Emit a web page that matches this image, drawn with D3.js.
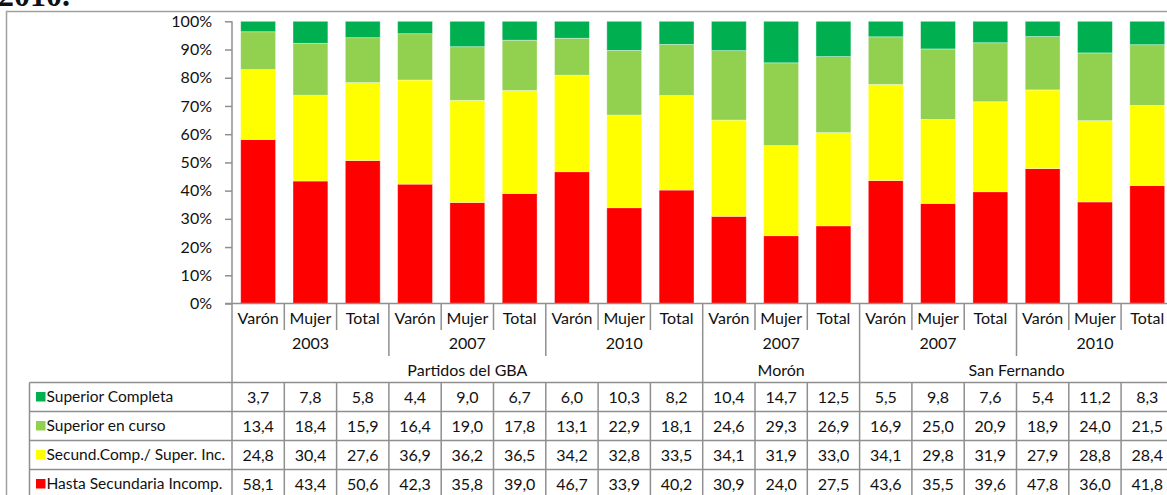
<!DOCTYPE html>
<html>
<head>
<meta charset="utf-8">
<script src="https://cdn.jsdelivr.net/npm/d3@7"></script>
<style>
  body { margin: 0; background: #fff; }
  svg text { font-family: Lato, "Open Sans", sans-serif; fill: #111; }
</style>
</head>
<body>
<div id="chart"></div>
<script>
const width = 1167;
const height = 495;

// categories
const sexLabels = ["Varón", "Mujer", "Total"];
const yearLabels = ["2003", "2007", "2010", "2007", "2007", "2010"];
const yearRegion = [0, 0, 0, 1, 2, 2];
const regionLabels = ["Partidos del GBA", "Morón", "San Fernando"];

// series (bottom to top of the stack)
const seriesNames = ["Hasta Secundaria Incomp.", "Secund.Comp./ Super. Inc.", "Superior en curso", "Superior Completa"];
const seriesColors = ["#ff0000", "#ffff00", "#92d050", "#00b050"];
const hastaSecundaria = [58.1, 43.4, 50.6, 42.3, 35.8, 39.0, 46.7, 33.9, 40.2, 30.9, 24.0, 27.5, 43.6, 35.5, 39.6, 47.8, 36.0, 41.8];
const secundComp = [24.8, 30.4, 27.6, 36.9, 36.2, 36.5, 34.2, 32.8, 33.5, 34.1, 31.9, 33.0, 34.1, 29.8, 31.9, 27.9, 28.8, 28.4];
const superiorEnCurso = [13.4, 18.4, 15.9, 16.4, 19.0, 17.8, 13.1, 22.9, 18.1, 24.6, 29.3, 26.9, 16.9, 25.0, 20.9, 18.9, 24.0, 21.5];
const superiorCompleta = [3.7, 7.8, 5.8, 4.4, 9.0, 6.7, 6.0, 10.3, 8.2, 10.4, 14.7, 12.5, 5.5, 9.8, 7.6, 5.4, 11.2, 8.3];

const yTicks = [0, 0.1, 0.2, 0.3, 0.4, 0.5, 0.6, 0.7, 0.8, 0.9, 1];

const seriesValues = [hastaSecundaria, secundComp, superiorEnCurso, superiorCompleta];

// one row per bar
const rows = hastaSecundaria.map((d, i) => {
  const row = { idx: i };
  seriesNames.forEach((name, s) => { row[name] = seriesValues[s][i]; });
  return row;
});

const colW = 52.3;
const plotLeft = 232;
const plotTop = 21.3;
const plotBottom = 303.5;
const fontSize = "16px";

const x = d3.scaleBand()
  .domain(rows.map(d => d.idx))
  .range([plotLeft, plotLeft + colW * rows.length])
  .paddingInner(1 / 3)
  .paddingOuter(1 / 6);

const y = d3.scaleLinear().domain([0, 1]).range([plotBottom, plotTop]);

const stack = d3.stack().keys(seriesNames).offset(d3.stackOffsetExpand);
const stacked = stack(rows);

const comma = d3.formatLocale({ decimal: ",", thousands: ".", grouping: [3], currency: ["$", ""] }).format(".1f");

const svg = d3.select("#chart").append("svg")
  .attr("width", width)
  .attr("height", height);

const gridColor = "#8f8f8f";

// cut-off title above the chart
svg.append("text")
  .attr("x", -2)
  .attr("y", 6)
  .style("font-family", "'Liberation Serif', serif")
  .style("font-weight", "bold")
  .style("font-size", "32px")
  .text("2010.");

// chart border
svg.append("rect")
  .attr("x", 6.5)
  .attr("y", 11.5)
  .attr("width", 1300)
  .attr("height", 700)
  .attr("fill", "#fff")
  .attr("stroke", "#a0a0a0")
  .attr("stroke-width", 1.5);

// bars
svg.append("g")
  .selectAll("g")
  .data(stacked)
  .join("g")
  .attr("fill", (d, i) => seriesColors[i])
  .selectAll("rect")
  .data(d => d)
  .join("rect")
  .attr("x", d => x(d.data.idx))
  .attr("y", d => y(d[1]))
  .attr("width", x.bandwidth())
  .attr("height", d => y(d[0]) - y(d[1]))
  .attr("stroke", "rgba(255,255,255,0.45)")
  .attr("stroke-width", 0.8);

// y axis
const yAxis = d3.axisLeft(y)
  .tickValues(yTicks)
  .tickFormat(d3.format(".0%"))
  .tickSize(7)
  .tickPadding(13);

const yG = svg.append("g")
  .attr("transform", `translate(${plotLeft},0)`)
  .call(yAxis);
yG.select(".domain").remove();
yG.selectAll(".tick line").attr("stroke", gridColor).attr("stroke-width", 1.5);
yG.selectAll(".tick text")
  .style("font-size", fontSize)
  .style("font-family", "Lato, sans-serif")
  .attr("fill", "#111");

// axis lines
svg.append("line")
  .attr("x1", plotLeft).attr("x2", plotLeft)
  .attr("y1", plotTop).attr("y2", height)
  .attr("stroke", gridColor).attr("stroke-width", 1.5);
svg.append("line")
  .attr("x1", plotLeft - 7).attr("x2", width)
  .attr("y1", plotBottom).attr("y2", plotBottom)
  .attr("stroke", gridColor).attr("stroke-width", 1.5);

// category rows under the axis
const colLeft = i => plotLeft + i * colW;
const rowSex = 318, rowYear = 343, rowRegion = 370;
const tableTop = 382.5, rowH = 29;

const sepG = svg.append("g").attr("stroke", gridColor).attr("stroke-width", 1.5);
for (let i = 1; i < rows.length; i++) {
  let bottom = 330;
  if (i % 3 === 0) bottom = 356;
  if (i % 3 === 0 && yearRegion[i / 3] !== yearRegion[i / 3 - 1]) bottom = tableTop;
  sepG.append("line")
    .attr("x1", colLeft(i)).attr("x2", colLeft(i))
    .attr("y1", plotBottom).attr("y2", bottom);
}

const labelG = svg.append("g").attr("text-anchor", "middle").style("font-size", fontSize);
rows.forEach((r, i) => {
  labelG.append("text")
    .attr("x", x(r.idx) + x.bandwidth() / 2)
    .attr("y", rowSex)
    .attr("dy", "0.35em")
    .text(sexLabels[i % 3]);
});
yearLabels.forEach((yl, g) => {
  labelG.append("text")
    .attr("x", colLeft(g * 3) + colW * 1.5)
    .attr("y", rowYear)
    .attr("dy", "0.35em")
    .text(yl);
});
regionLabels.forEach((rl, r) => {
  const cols = yearRegion.map((v, g) => v === r ? g : -1).filter(g => g >= 0);
  const start = colLeft(cols[0] * 3);
  const end = colLeft((cols[cols.length - 1] + 1) * 3);
  labelG.append("text")
    .attr("x", (start + end) / 2)
    .attr("y", rowRegion)
    .attr("dy", "0.35em")
    .text(rl);
});

// data table (top row = top of stack)
const tableOrder = [3, 2, 1, 0];
const legendLeft = 29.5;
const tableG = svg.append("g");

for (let k = 0; k <= tableOrder.length; k++) {
  tableG.append("line")
    .attr("x1", legendLeft).attr("x2", width)
    .attr("y1", tableTop + k * rowH).attr("y2", tableTop + k * rowH)
    .attr("stroke", gridColor).attr("stroke-width", 1.5);
}
tableG.append("line")
  .attr("x1", legendLeft).attr("x2", legendLeft)
  .attr("y1", tableTop).attr("y2", height)
  .attr("stroke", gridColor).attr("stroke-width", 1.5);
for (let i = 1; i <= rows.length; i++) {
  tableG.append("line")
    .attr("x1", colLeft(i)).attr("x2", colLeft(i))
    .attr("y1", tableTop).attr("y2", height)
    .attr("stroke", gridColor).attr("stroke-width", 1.5);
}

tableOrder.forEach((s, k) => {
  const cy = tableTop + k * rowH + rowH / 2;
  tableG.append("rect")
    .attr("x", 36).attr("y", cy - 5)
    .attr("width", 9.5).attr("height", 9.5)
    .attr("fill", seriesColors[s]);
  tableG.append("text")
    .attr("x", 46.5).attr("y", cy)
    .attr("dy", "0.35em")
    .style("font-size", "15.5px")
    .text(seriesNames[s]);
  seriesValues[s].forEach((v, i) => {
    tableG.append("text")
      .attr("x", x(i) + x.bandwidth() / 2)
      .attr("y", cy)
      .attr("dy", "0.35em")
      .attr("text-anchor", "middle")
      .style("font-size", fontSize)
      .text(comma(v));
  });
});
</script>
</body>
</html>
